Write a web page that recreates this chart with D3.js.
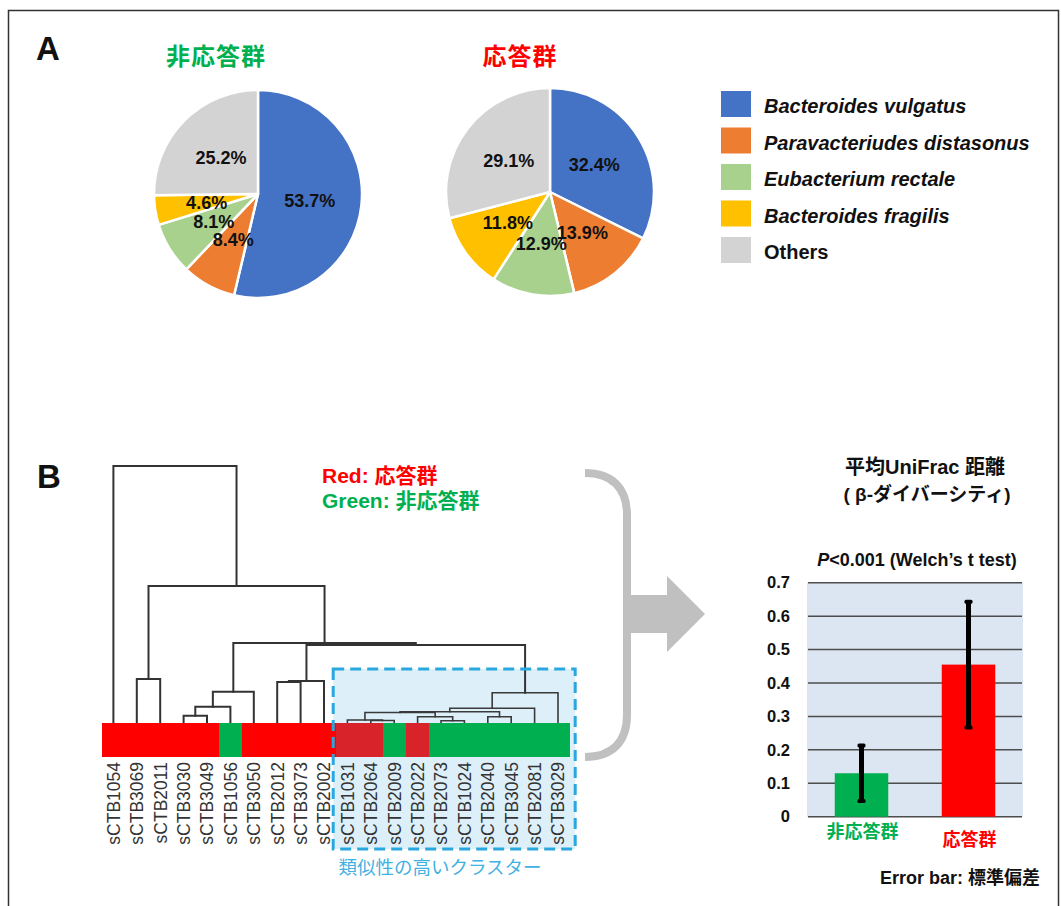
<!DOCTYPE html>
<html>
<head>
<meta charset="utf-8">
<script src="https://cdn.jsdelivr.net/npm/d3@7"></script>
<style>
  html, body { margin: 0; padding: 0; background: #fff; }
  svg { display: block; }
  text { font-family: "Liberation Sans", Arial, "Noto Sans CJK JP", sans-serif; }
</style>
</head>
<body>
<svg id="chart" width="1061" height="906"></svg>
<script>
// ---------- data ----------
const speciesNames = ["Bacteroides vulgatus", "Paravacteriudes distasonus", "Eubacterium rectale", "Bacteroides fragilis", "Others"];
const speciesItalic = [true, true, true, true, false];
const speciesColors = ["#4472c4", "#ed7d31", "#a9d18e", "#ffc000", "#d3d3d3"];
const nonResponderShare = [53.7, 8.4, 8.1, 4.6, 25.2];
const responderShare = [32.4, 13.9, 12.9, 11.8, 29.1];

const groupNames = ["非応答群", "応答群"];
const groupColors = ["#00b050", "#ff0000"];

const leafNames = ["sCTB1054", "sCTB3069", "sCTB2011", "sCTB3030", "sCTB3049", "sCTB1056", "sCTB3050",
  "sCTB2012", "sCTB3073", "sCTB2002", "sCTB1031", "sCTB2064", "sCTB2009", "sCTB2022", "sCTB2073",
  "sCTB1024", "sCTB2040", "sCTB3045", "sCTB2081", "sCTB3029"];
// R = 応答群, N = 非応答群
const leafGroups = ["R", "R", "R", "R", "R", "N", "R", "R", "R", "R", "R", "R", "N", "R", "N", "N", "N", "N", "N", "N"];
const clusterFirst = "sCTB1031", clusterLast = "sCTB3029";

// hierarchical clustering merges: [node, left, right, height]
const merges = [
  ["m1", "sCTB3030", "sCTB3049", 0.073],
  ["m2", "m1", "sCTB1056", 0.163],
  ["m3", "m2", "sCTB3050", 0.313],
  ["m4", "sCTB3069", "sCTB2011", 0.44],
  ["m5", "sCTB2012", "sCTB3073", 0.41],
  ["m6", "m5", "sCTB2002", 0.42],
  ["m7", "sCTB2064", "sCTB2009", 0.025],
  ["m8", "sCTB1031", "m7", 0.03],
  ["m9", "sCTB2073", "sCTB1024", 0.022],
  ["m10", "sCTB2022", "m9", 0.063],
  ["m11", "sCTB2040", "sCTB3045", 0.063],
  ["m12", "m8", "m10", 0.105],
  ["m13", "m12", "m11", 0.113],
  ["m14", "m13", "sCTB2081", 0.147],
  ["m15", "m14", "sCTB3029", 0.303],
  ["m16", "m6", "m15", 0.78],
  ["m17", "m3", "m16", 0.80],
  ["m18", "m4", "m17", 1.37],
  ["m19", "sCTB1054", "m18", 2.57]
];

const unifracMeans = [0.13, 0.455];
const unifracSD = [0.083, 0.188];
const yTicks = [0, 0.1, 0.2, 0.3, 0.4, 0.5, 0.6, 0.7];
const yTickLabels = ["0", "0.1", "0.2", "0.3", "0.4", "0.5", "0.6", "0.7"];

// ---------- setup ----------
const svg = d3.select("#chart");
const FONT = '"Liberation Sans", Arial, "Noto Sans CJK JP", sans-serif';

// outer frame
svg.append("rect").attr("x", 8.5).attr("y", 10.5).attr("width", 1050).attr("height", 1000)
  .attr("fill", "none").attr("stroke", "#333").attr("stroke-width", 1.5);

// panel letters
svg.append("text").attr("x", 36).attr("y", 60).text("A")
  .attr("font-size", 33).attr("font-weight", "bold").attr("fill", "#111");
svg.append("text").attr("x", 37).attr("y", 488).text("B")
  .attr("font-size", 33).attr("font-weight", "bold").attr("fill", "#111");

// ---------- panel A: pies ----------
const pie = d3.pie().sort(null).value(d => d);
const R = 104;
const arc = d3.arc().innerRadius(0).outerRadius(R);
const labelArc = d3.arc().innerRadius(R * 0.5).outerRadius(R * 0.5);

function drawPie(values, cx, cy, title, titleColor, tx) {
  const g = svg.append("g").attr("transform", `translate(${cx},${cy})`);
  const arcs = pie(values);
  g.selectAll("path").data(arcs).join("path")
    .attr("d", arc)
    .attr("fill", (d, i) => speciesColors[i])
    .attr("stroke", "#fff").attr("stroke-width", 2.5).attr("stroke-linejoin", "round");
  g.selectAll("text").data(arcs).join("text")
    .attr("transform", d => `translate(${labelArc.centroid(d)})`)
    .attr("text-anchor", "middle").attr("dy", "0.36em")
    .attr("font-size", 18).attr("font-weight", "bold").attr("fill", "#111")
    .text(d => d.data.toFixed(1) + "%");
  svg.append("text").attr("x", tx).attr("y", 65).attr("text-anchor", "middle")
    .attr("font-size", 24).attr("font-weight", "bold").attr("fill", titleColor)
    .attr("letter-spacing", 1).text(title);
}
drawPie(nonResponderShare, 258, 194, groupNames[0], groupColors[0], 216);
drawPie(responderShare, 550, 192, groupNames[1], groupColors[1], 520);

// legend
const legend = svg.append("g").attr("transform", "translate(721,91)");
const legendRows = legend.selectAll("g").data(speciesNames).join("g")
  .attr("transform", (d, i) => `translate(0,${i * 36.5})`);
legendRows.append("rect").attr("width", 30).attr("height", 26)
  .attr("fill", (d, i) => speciesColors[i]);
legendRows.append("text").attr("x", 43).attr("y", 22)
  .attr("font-size", 20).attr("font-weight", "bold")
  .attr("font-style", (d, i) => speciesItalic[i] ? "italic" : "normal")
  .attr("fill", "#111").text(d => d);

// ---------- panel B: dendrogram ----------
const barTop = 723, barH = 34;
const xLeaf = d3.scaleBand().domain(leafNames).range([101.7, 569.7]);
const yDist = d3.scaleLinear().domain([0, 2.57]).range([barTop, 466]);

// similarity cluster box
const boxX0 = xLeaf(clusterFirst) - 2.5;
const boxX1 = xLeaf(clusterLast) + xLeaf.bandwidth() + 5.5;
svg.append("rect").attr("x", boxX0).attr("y", 669).attr("width", boxX1 - boxX0).attr("height", 180)
  .attr("fill", "#ddf0fa");

// node positions
const nodeX = new Map(), nodeY = new Map();
leafNames.forEach(n => { nodeX.set(n, xLeaf(n) + xLeaf.bandwidth() / 2); nodeY.set(n, barTop); });
const dendro = svg.append("g").attr("fill", "none").attr("stroke", "#333").attr("stroke-width", 2)
  .attr("stroke-linecap", "square");
merges.forEach(([id, a, b, h]) => {
  const xa = nodeX.get(a), xb = nodeX.get(b), y = yDist(h);
  nodeX.set(id, (xa + xb) / 2); nodeY.set(id, y);
  const inCluster = Math.min(xa, xb) >= boxX0;
  dendro.append("path")
    .attr("d", `M${xa},${nodeY.get(a)}V${y}H${xb}V${nodeY.get(b)}`)
    .attr("stroke", inCluster ? "#3a3a3a" : "#333")
    .attr("stroke-width", inCluster ? 1.6 : 2);
});

// group colour strip: consecutive leaves of one colour form one block
const clusterStart = leafNames.indexOf(clusterFirst);
const stripColor = i => leafGroups[i] === "N" ? "#00b050" : (i >= clusterStart ? "#d9232b" : "#ff0000");
const runs = [];
leafNames.forEach((n, i) => {
  const c = stripColor(i);
  const last = runs[runs.length - 1];
  if (last && last.color === c) last.end = n; else runs.push({ start: n, end: n, color: c });
});
svg.append("g").selectAll("rect").data(runs).join("rect")
  .attr("x", d => xLeaf(d.start)).attr("y", barTop)
  .attr("width", d => xLeaf(d.end) + xLeaf.bandwidth() - xLeaf(d.start)).attr("height", barH)
  .attr("fill", d => d.color).attr("shape-rendering", "crispEdges");

// dashed outline on top of strip
svg.append("rect").attr("x", boxX0).attr("y", 669).attr("width", boxX1 - boxX0).attr("height", 180)
  .attr("fill", "none").attr("stroke", "#2aa7de").attr("stroke-width", 3)
  .attr("stroke-dasharray", "11,6");

// leaf labels
svg.append("g").selectAll("text").data(leafNames).join("text")
  .attr("transform", d => `translate(${xLeaf(d) + xLeaf.bandwidth() / 2},${barTop + barH + 5}) rotate(-90)`)
  .attr("text-anchor", "end").attr("dy", "0.36em")
  .attr("font-size", 17.5).attr("fill", "#333").text(d => d);

svg.append("text").attr("x", 440).attr("y", 874).attr("text-anchor", "middle")
  .attr("font-size", 18.5).attr("fill", "#3fb1e3").text("類似性の高いクラスター");

// colour key
svg.append("text").attr("x", 322).attr("y", 483).attr("font-size", 21).attr("font-weight", "bold")
  .attr("fill", "#ff0000").text("Red: " + groupNames[1]);
svg.append("text").attr("x", 322).attr("y", 508).attr("font-size", 21).attr("font-weight", "bold")
  .attr("fill", "#00b050").text("Green: " + groupNames[0]);

// bracket + arrow
const grey = "#c0c0c0";
svg.append("path")
  .attr("d", "M585,473 C612,473 627,488 627,515 L627,715 C627,742 612,757 585,757")
  .attr("fill", "none").attr("stroke", grey).attr("stroke-width", 8);
svg.append("path")
  .attr("d", "M627,595 H667 V576 L705,614 L667,652 V633 H627 Z")
  .attr("fill", grey);

// ---------- panel B: bar chart ----------
const x = d3.scaleBand().domain(groupNames).range([808, 1022]).paddingInner(0.5).paddingOuter(0.25);
const y = d3.scaleLinear().domain([0, 0.7]).range([816.7, 582.7]);

svg.append("rect").attr("x", 807).attr("y", y(0.7)).attr("width", 216).attr("height", y(0) - y(0.7))
  .attr("fill", "#dce6f2");

svg.append("g").selectAll("line").data(yTicks).join("line")
  .attr("x1", 808).attr("x2", 1022).attr("y1", d => y(d)).attr("y2", d => y(d))
  .attr("stroke", "#4d4d4d").attr("stroke-width", 1.5);

const yAxis = d3.axisLeft(y).tickValues(yTicks).tickFormat((d, i) => yTickLabels[i]).tickSize(0).tickPadding(0);
const yAxisG = svg.append("g").attr("transform", "translate(790,0)").call(yAxis);
yAxisG.select(".domain").remove();
yAxisG.selectAll("text").attr("font-size", 16.5).attr("font-weight", "bold").attr("fill", "#111")
  .attr("font-family", FONT);

svg.append("g").selectAll("rect").data(groupNames).join("rect")
  .attr("x", d => x(d)).attr("width", x.bandwidth())
  .attr("y", (d, i) => y(unifracMeans[i])).attr("height", (d, i) => y(0) - y(unifracMeans[i]))
  .attr("fill", (d, i) => groupColors[i]);

// error bars (± SD)
const eb = svg.append("g");
groupNames.forEach((g, i) => {
  const cx = x(g) + x.bandwidth() / 2;
  const hi = y(unifracMeans[i] + unifracSD[i]), lo = y(unifracMeans[i] - unifracSD[i]);
  eb.append("line").attr("x1", cx).attr("x2", cx).attr("y1", hi).attr("y2", lo)
    .attr("stroke", "#000").attr("stroke-width", 5);
  [hi, lo].forEach(v => eb.append("rect").attr("x", cx - 4).attr("y", v - 2).attr("width", 8).attr("height", 4)
    .attr("rx", 1.5).attr("fill", "#000"));
});

// category labels (staggered)
svg.append("g").selectAll("text").data(groupNames).join("text")
  .attr("x", d => x(d) + x.bandwidth() / 2 + 1).attr("y", (d, i) => i === 0 ? 838 : 846)
  .attr("text-anchor", "middle").attr("font-size", 18).attr("font-weight", "bold")
  .attr("fill", (d, i) => groupColors[i]).text(d => d);

// titles and notes
svg.append("text").attr("x", 925).attr("y", 474).attr("text-anchor", "middle")
  .attr("font-size", 20).attr("font-weight", "bold").attr("fill", "#111").text("平均UniFrac 距離");
svg.append("text").attr("x", 927).attr("y", 501).attr("text-anchor", "middle")
  .attr("font-size", 19).attr("font-weight", "bold").attr("fill", "#111").text("( β-ダイバーシティ)");
const pText = svg.append("text").attr("x", 917).attr("y", 566).attr("text-anchor", "middle")
  .attr("font-size", 18).attr("font-weight", "bold").attr("fill", "#111");
pText.append("tspan").attr("font-style", "italic").text("P");
pText.append("tspan").text("<0.001 (Welch’s t test)");

svg.append("text").attr("x", 1040).attr("y", 884).attr("text-anchor", "end")
  .attr("font-size", 18).attr("font-weight", "bold").attr("fill", "#111").text("Error bar: 標準偏差");
</script>
</body>
</html>
